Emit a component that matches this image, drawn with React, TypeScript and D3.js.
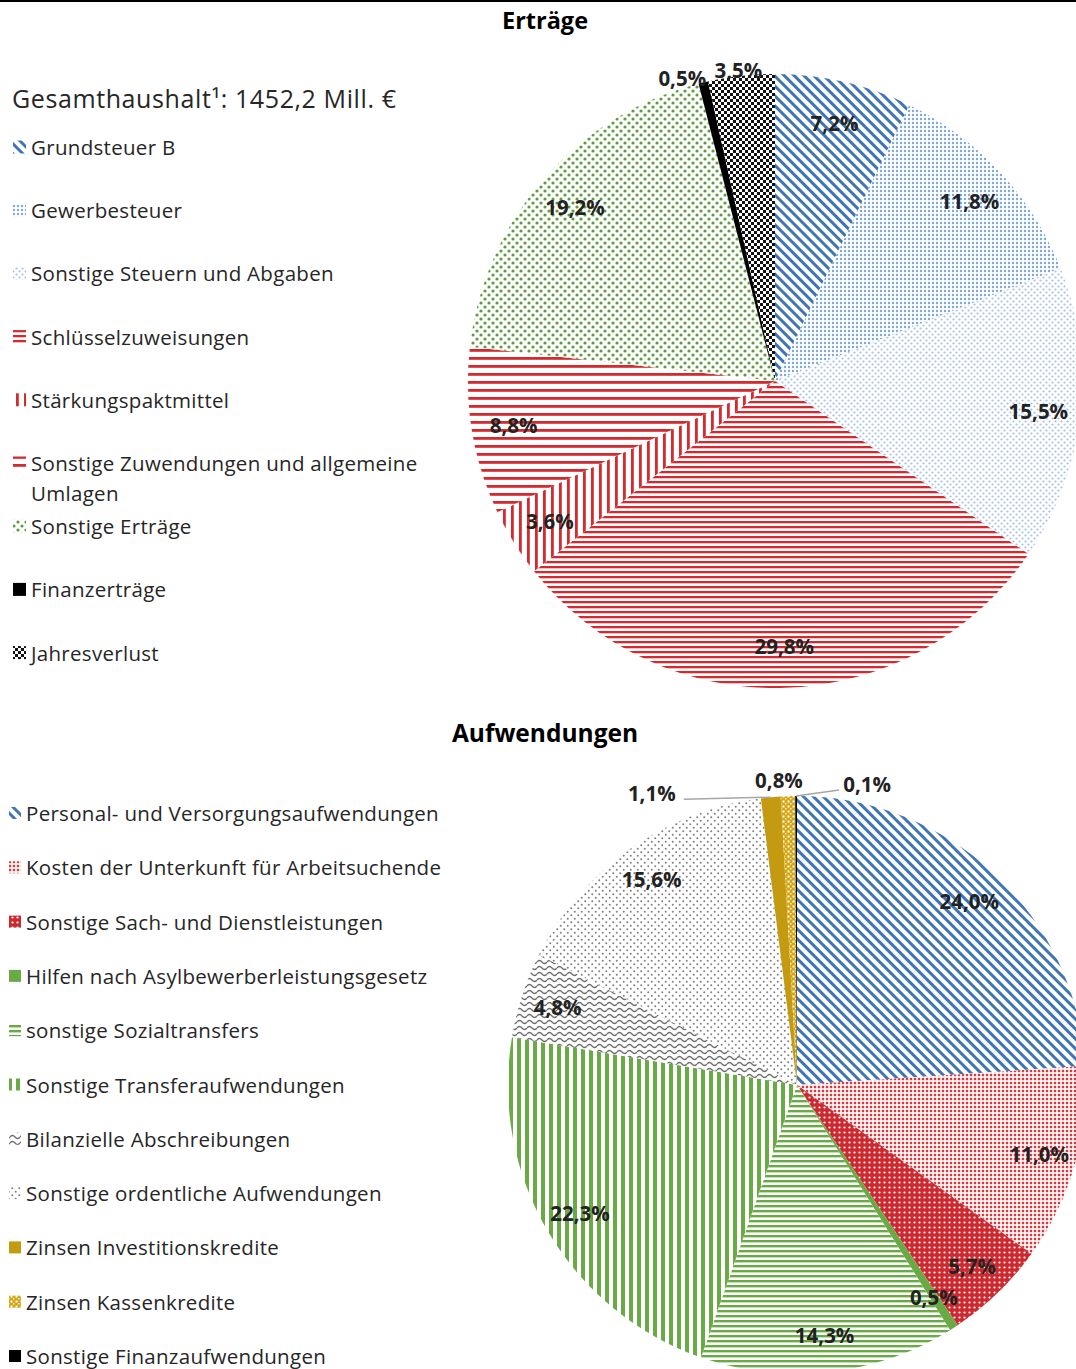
import * as d3 from "d3";

// Erträge (top pie), clockwise from 12 o'clock
const ertraegeCategories = [
  "Grundsteuer B",
  "Gewerbesteuer",
  "Sonstige Steuern und Abgaben",
  "Schlüsselzuweisungen",
  "Stärkungspaktmittel",
  "Sonstige Zuwendungen und allgemeine Umlagen",
  "Sonstige Erträge",
  "Finanzerträge",
  "Jahresverlust",
];
const ertraegeValues = [7.2, 11.8, 15.5, 29.8, 3.6, 8.8, 19.2, 0.5, 3.5];

// Aufwendungen (bottom pie)
const aufwCategories = [
  "Personal- und Versorgungsaufwendungen",
  "Kosten der Unterkunft für Arbeitsuchende",
  "Sonstige Sach- und Dienstleistungen",
  "Hilfen nach Asylbewerberleistungsgesetz",
  "sonstige Sozialtransfers",
  "Sonstige Transferaufwendungen",
  "Bilanzielle Abschreibungen",
  "Sonstige ordentliche Aufwendungen",
  "Zinsen Investitionskredite",
  "Zinsen Kassenkredite",
  "Sonstige Finanzaufwendungen",
];
const aufwValues = [24.0, 11.0, 5.7, 0.5, 14.3, 22.3, 4.8, 15.6, 1.1, 0.8, 0.1];

const ertraegePatterns = ["blueDiag", "blueDots", "blueLight", "redHorzFine", "redVert", "redHorzWide", "greenDots", "black", "checker"];
const aufwPatterns = ["blueDiag", "redDots", "redCross", "green", "greenHorz", "greenVert", "grayWave", "grayDots", "gold", "goldCheck", "black"];

const FONT = "'Open Sans', 'Noto Sans', sans-serif";
const fmt = (v: number) => v.toFixed(1).replace(".", ",") + "%";

type Outside = { [i: number]: { dx: number; dy: number; leader?: boolean } };

function Pie({ values, patterns, cx, cy, r, labelR, outside }: {
  values: number[]; patterns: string[]; cx: number; cy: number; r: number; labelR: number; outside: Outside;
}) {
  const arcs = d3.pie<number>().sort(null).value((d) => d)(values);
  const arc = d3.arc<d3.PieArcDatum<number>>().innerRadius(0).outerRadius(r);
  const labelArc = d3.arc<d3.PieArcDatum<number>>().innerRadius(labelR).outerRadius(labelR);
  const rimArc = d3.arc<d3.PieArcDatum<number>>().innerRadius(r).outerRadius(r);
  const labelStyle = { fontFamily: FONT, fontWeight: 700, fontSize: 20.5, fill: "#222" };
  return (
    <g transform={`translate(${cx},${cy})`}>
      {arcs.map((a, i) => (
        <path key={i} d={arc(a) || ""} fill={`url(#${patterns[i]})`} />
      ))}
      {arcs.map((a, i) => {
        const o = outside[i];
        if (o) {
          const [rx, ry] = rimArc.centroid(a);
          const lx = rx + o.dx;
          const ly = ry + o.dy;
          const toRight = o.dx > 0;
          return (
            <g key={i}>
              {o.leader && (
                <line x1={rx} y1={ry} x2={lx + (toRight ? -28 : 32)} y2={ly + 6} stroke="#a6a6a6" strokeWidth={1.5} />
              )}
              <text x={lx} y={ly} textAnchor="middle" dominantBaseline="central" {...labelStyle}>
                {fmt(values[i])}
              </text>
            </g>
          );
        }
        const [x, y] = labelArc.centroid(a);
        return (
          <text key={i} x={x} y={y} textAnchor="middle" dominantBaseline="central" {...labelStyle}>
            {fmt(values[i])}
          </text>
        );
      })}
    </g>
  );
}

function Legend({ items, patterns, x, y0, step, fontSize, icon, wrapAt }: {
  items: string[]; patterns: string[]; x: number; y0: number; step: number; fontSize: number; icon: number; wrapAt: number;
}) {
  return (
    <g>
      {items.map((t, i) => {
        const y = y0 + i * step;
        let lines = [t];
        if (t.length > wrapAt) {
          const cut = t.lastIndexOf(" ", wrapAt);
          lines = [t.slice(0, cut), t.slice(cut + 1)];
        }
        return (
          <g key={i}>
            <rect x={x - icon - 5} y={y - icon / 2} width={icon} height={icon} fill={`url(#${patterns[i]})`} />
            {lines.map((l, j) => (
              <text key={j} x={x} y={y + j * 30} dominantBaseline="central" fontFamily={FONT} fontSize={fontSize} letterSpacing={0.3} fill="#262626">
                {l}
              </text>
            ))}
          </g>
        );
      })}
    </g>
  );
}

function Patterns() {
  return (
    <defs>
      <pattern id="blueDiag" width="7" height="7" patternUnits="userSpaceOnUse" patternTransform="rotate(45)">
        <rect width="7" height="7" fill="#fff" />
        <rect width="7" height="3" fill="#3f74b5" />
      </pattern>
      <pattern id="blueDots" width="4" height="4" patternUnits="userSpaceOnUse">
        <rect width="4" height="4" fill="#fff" />
        <circle cx="2" cy="2" r="1.2" fill="#7ea8d8" />
      </pattern>
      <pattern id="blueLight" width="6" height="6" patternUnits="userSpaceOnUse">
        <rect width="6" height="6" fill="#fff" />
        <circle cx="1.5" cy="1.5" r="1.1" fill="#a3c0e6" />
        <circle cx="4.5" cy="4.5" r="1.1" fill="#a3c0e6" />
      </pattern>
      <pattern id="redHorzFine" width="5" height="5" patternUnits="userSpaceOnUse">
        <rect width="5" height="5" fill="#fff" />
        <rect width="5" height="2.3" fill="#d42a2f" />
      </pattern>
      <pattern id="redHorzWide" width="8" height="8" patternUnits="userSpaceOnUse">
        <rect width="8" height="8" fill="#fff" />
        <rect width="8" height="2.8" fill="#d42a2f" />
      </pattern>
      <pattern id="redVert" width="8" height="8" patternUnits="userSpaceOnUse">
        <rect width="8" height="8" fill="#fff" />
        <rect width="2.8" height="8" fill="#d42a2f" />
      </pattern>
      <pattern id="greenDots" width="8" height="8" patternUnits="userSpaceOnUse">
        <rect width="8" height="8" fill="#fff" />
        <circle cx="2" cy="2" r="1.6" fill="#5b9c3c" />
        <circle cx="6" cy="6" r="1.6" fill="#5b9c3c" />
      </pattern>
      <pattern id="black" width="4" height="4" patternUnits="userSpaceOnUse">
        <rect width="4" height="4" fill="#000" />
      </pattern>
      <pattern id="checker" width="6" height="6" patternUnits="userSpaceOnUse">
        <rect width="6" height="6" fill="#111" />
        <rect x="0" y="0" width="3" height="3" fill="#fff" />
        <rect x="3" y="3" width="3" height="3" fill="#fff" />
      </pattern>
      <pattern id="redDots" width="4" height="4" patternUnits="userSpaceOnUse">
        <rect width="4" height="4" fill="#fff" />
        <rect x="0.8" y="0.8" width="2.4" height="2.4" fill="#d43a3f" />
      </pattern>
      <pattern id="redCross" width="5" height="5" patternUnits="userSpaceOnUse">
        <rect width="5" height="5" fill="#cc2a30" />
        <circle cx="2.5" cy="2.5" r="1.1" fill="#fff" />
      </pattern>
      <pattern id="green" width="4" height="4" patternUnits="userSpaceOnUse">
        <rect width="4" height="4" fill="#6aaa46" />
      </pattern>
      <pattern id="greenHorz" width="5" height="5" patternUnits="userSpaceOnUse">
        <rect width="5" height="5" fill="#fff" />
        <rect width="5" height="2.4" fill="#6aaa46" />
      </pattern>
      <pattern id="greenVert" width="8" height="8" patternUnits="userSpaceOnUse">
        <rect width="8" height="8" fill="#fff" />
        <rect width="4" height="8" fill="#6aaa46" />
      </pattern>
      <pattern id="grayWave" width="10" height="6" patternUnits="userSpaceOnUse">
        <rect width="10" height="6" fill="#fff" />
        <path d="M0 3 Q2.5 0 5 3 T10 3" stroke="#6e6e6e" strokeWidth="1.3" fill="none" />
      </pattern>
      <pattern id="grayDots" width="7" height="7" patternUnits="userSpaceOnUse">
        <rect width="7" height="7" fill="#fff" />
        <circle cx="1.75" cy="1.75" r="1" fill="#808080" />
        <circle cx="5.25" cy="5.25" r="1" fill="#808080" />
      </pattern>
      <pattern id="gold" width="4" height="4" patternUnits="userSpaceOnUse">
        <rect width="4" height="4" fill="#c49a10" />
      </pattern>
      <pattern id="goldCheck" width="5" height="5" patternUnits="userSpaceOnUse">
        <rect width="5" height="5" fill="#d4a514" />
        <rect x="0.5" y="0.5" width="2" height="2" fill="#fff" />
        <rect x="3" y="3" width="1.5" height="1.5" fill="#fff3c4" />
      </pattern>
    </defs>
  );
}

export default function App() {
  const W = 1076;
  const H = 1369;
  return (
    <div style={{ position: "absolute", left: 0, top: 0 }}>
      <style>{"body{margin:0}"}</style>
      <svg width={W} height={H} style={{ display: "block", background: "#fff" }}>
        <Patterns />
        <rect x={0} y={0} width={W} height={2} fill="#000" />

        <text x={545} y={20} textAnchor="middle" dominantBaseline="central" fontFamily={FONT} fontWeight={700} fontSize={23.5} fill="#000">
          Erträge
        </text>
        <text x={12} y={98} dominantBaseline="central" fontFamily={FONT} fontSize={25} letterSpacing={0.6} fill="#262626">
          Gesamthaushalt¹: 1452,2 Mill. €
        </text>
        <Legend items={ertraegeCategories} patterns={ertraegePatterns} x={31} y0={147} step={63.2} fontSize={20.5} icon={13} wrapAt={37} />
        <Pie
          values={ertraegeValues}
          patterns={ertraegePatterns}
          cx={775}
          cy={381}
          r={307}
          labelR={265}
          outside={{ 7: { dx: -21, dy: -5 }, 8: { dx: -3, dy: -6 } }}
        />

        <text x={545} y={732} textAnchor="middle" dominantBaseline="central" fontFamily={FONT} fontWeight={700} fontSize={24.5} fill="#000">
          Aufwendungen
        </text>
        <Legend items={aufwCategories} patterns={aufwPatterns} x={26} y0={813} step={54.3} fontSize={20.5} icon={12} wrapAt={60} />
        <Pie
          values={aufwValues}
          patterns={aufwPatterns}
          cx={797}
          cy={1085}
          r={289}
          labelR={252}
          outside={{ 8: { dx: -119, dy: -4, leader: true }, 9: { dx: -9, dy: -16 }, 10: { dx: 71, dy: -12, leader: true } }}
        />
      </svg>
    </div>
  );
}
